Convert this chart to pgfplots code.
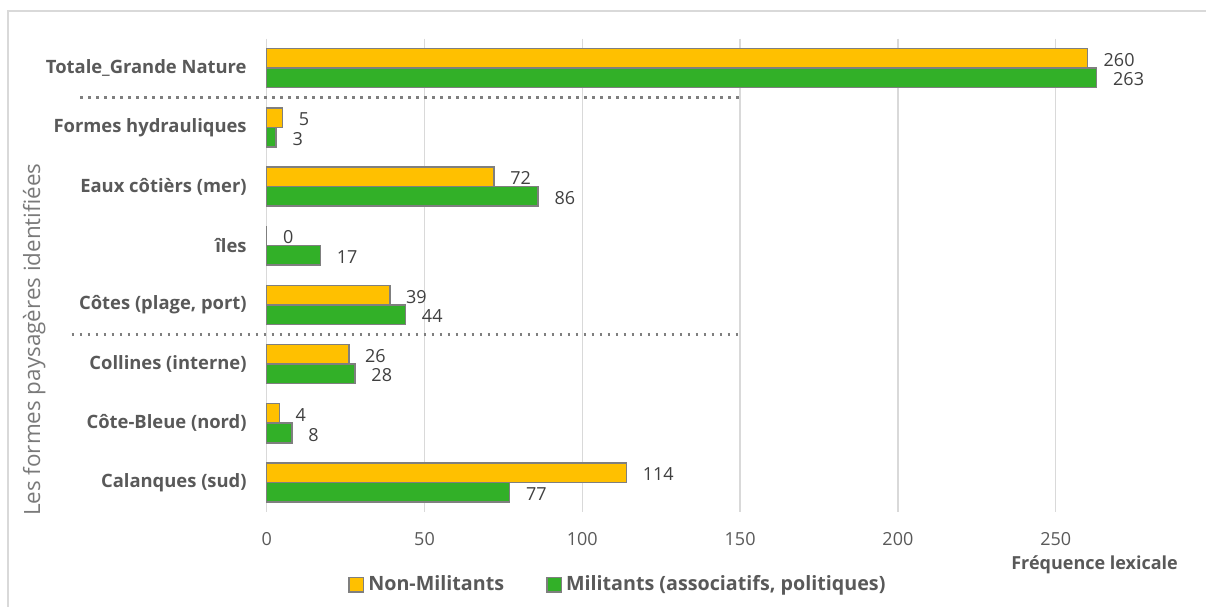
\documentclass[border=0pt]{standalone}
\usepackage{fontspec}
\setmainfont{Open Sans}
\usepackage{pgfplots}
\pgfplotsset{compat=1.18}
\definecolor{cyel}{HTML}{FFC000}
\definecolor{cgrn}{RGB}{50,176,40}
\definecolor{cbord}{HTML}{7F7F7F}
\definecolor{cgrid}{HTML}{D9D9D9}
\definecolor{ctxt}{HTML}{595959}
\definecolor{clab}{HTML}{404040}
\begin{document}
\begin{tikzpicture}
\useasboundingbox (0,0) rectangle (603pt,303pt);
\draw[cgrid, line width=0.75pt] (4pt,-5pt) -- (4pt,297.5pt) -- (610pt,297.5pt);
\begin{axis}[
  at={(133.35pt,47pt)}, anchor=south west,
  scale only axis, width=441.85pt, height=236.75pt,
  xbar, bar width=0.33,
  xmin=0, xmax=280, ymin=-0.5, ymax=7.5, y dir=reverse,
  clip=false,
  ytick={0,...,7},
  yticklabels={Totale\_Grande Nature, Formes hydrauliques, Eaux côtièrs (mer), îles, {Côtes (plage, port)}, Collines (interne), Côte-Bleue (nord), Calanques (sud)},
  xtick={0,50,...,250},
  axis line style={draw=none},
  major tick length=0pt,
  xmajorgrids, grid style={cgrid, line width=0.75pt},
  /pgf/number format/assume math mode=true,
  xticklabel style={font=\fontsize{9}{11}\selectfont, text=ctxt},
  xticklabel shift=6.5pt,
  yticklabel style={font=\bfseries\fontsize{9.2}{11}\selectfont, text=ctxt},
  yticklabel shift=6.5pt,
  xlabel={Fréquence lexicale},
  xlabel style={at={(axis description cs:1.039,-0.112)}, anchor=east, font=\bfseries\fontsize{9}{11}\selectfont, text=ctxt},
  ylabel={Les formes paysagères identifiées},
  ylabel style={at={(axis description cs:-0.263,0.364)}, anchor=center, font=\fontsize{11.2}{13}\selectfont, text=ctxt!80},
  nodes near coords,
  point meta=x,
  nodes near coords style={anchor=west, xshift=4.5pt, yshift=-0.8pt, font=\fontsize{9}{11}\selectfont, text=clab, /pgf/number format/assume math mode=true},
  legend columns=2,
  legend style={draw=none, fill=none, at={(axis description cs:0.092,-0.154)}, anchor=west, inner sep=0pt,
    font=\bfseries\fontsize{9.85}{12}\selectfont, text=ctxt,
    /tikz/every even column/.append style={column sep=19pt}},
]
\addplot[fill=cyel, draw=cbord, line width=0.75pt, bar shift=-0.165,
  legend image code/.code={\draw[fill=cyel, draw=cbord, line width=0.75pt] (0pt,-3.6pt) rectangle (7.2pt,3.6pt);}]
  coordinates {(260,0) (5,1) (72,2) (0,3) (39,4) (26,5) (4,6) (114,7)};
\addlegendentry{Non-Militants}
\addplot[fill=cgrn, draw=cbord, line width=0.75pt, bar shift=0.165,
  legend image code/.code={\draw[fill=cgrn, draw=cbord, line width=0.75pt] (0pt,-3.6pt) rectangle (7.2pt,3.6pt);}]
  coordinates {(263,0) (3,1) (86,2) (17,3) (44,4) (28,5) (8,6) (77,7)};
\addlegendentry{Militants (associatifs, politiques)}
\draw[cbord, line width=1.5pt, dash pattern=on 1.35pt off 2.65pt] (axis cs:-59,0.5) -- (axis cs:150,0.5);
\draw[cbord, line width=1.5pt, dash pattern=on 1.35pt off 2.65pt] (axis cs:-61.8,4.5) -- (axis cs:150,4.5);
\end{axis}
\end{tikzpicture}
\end{document}
